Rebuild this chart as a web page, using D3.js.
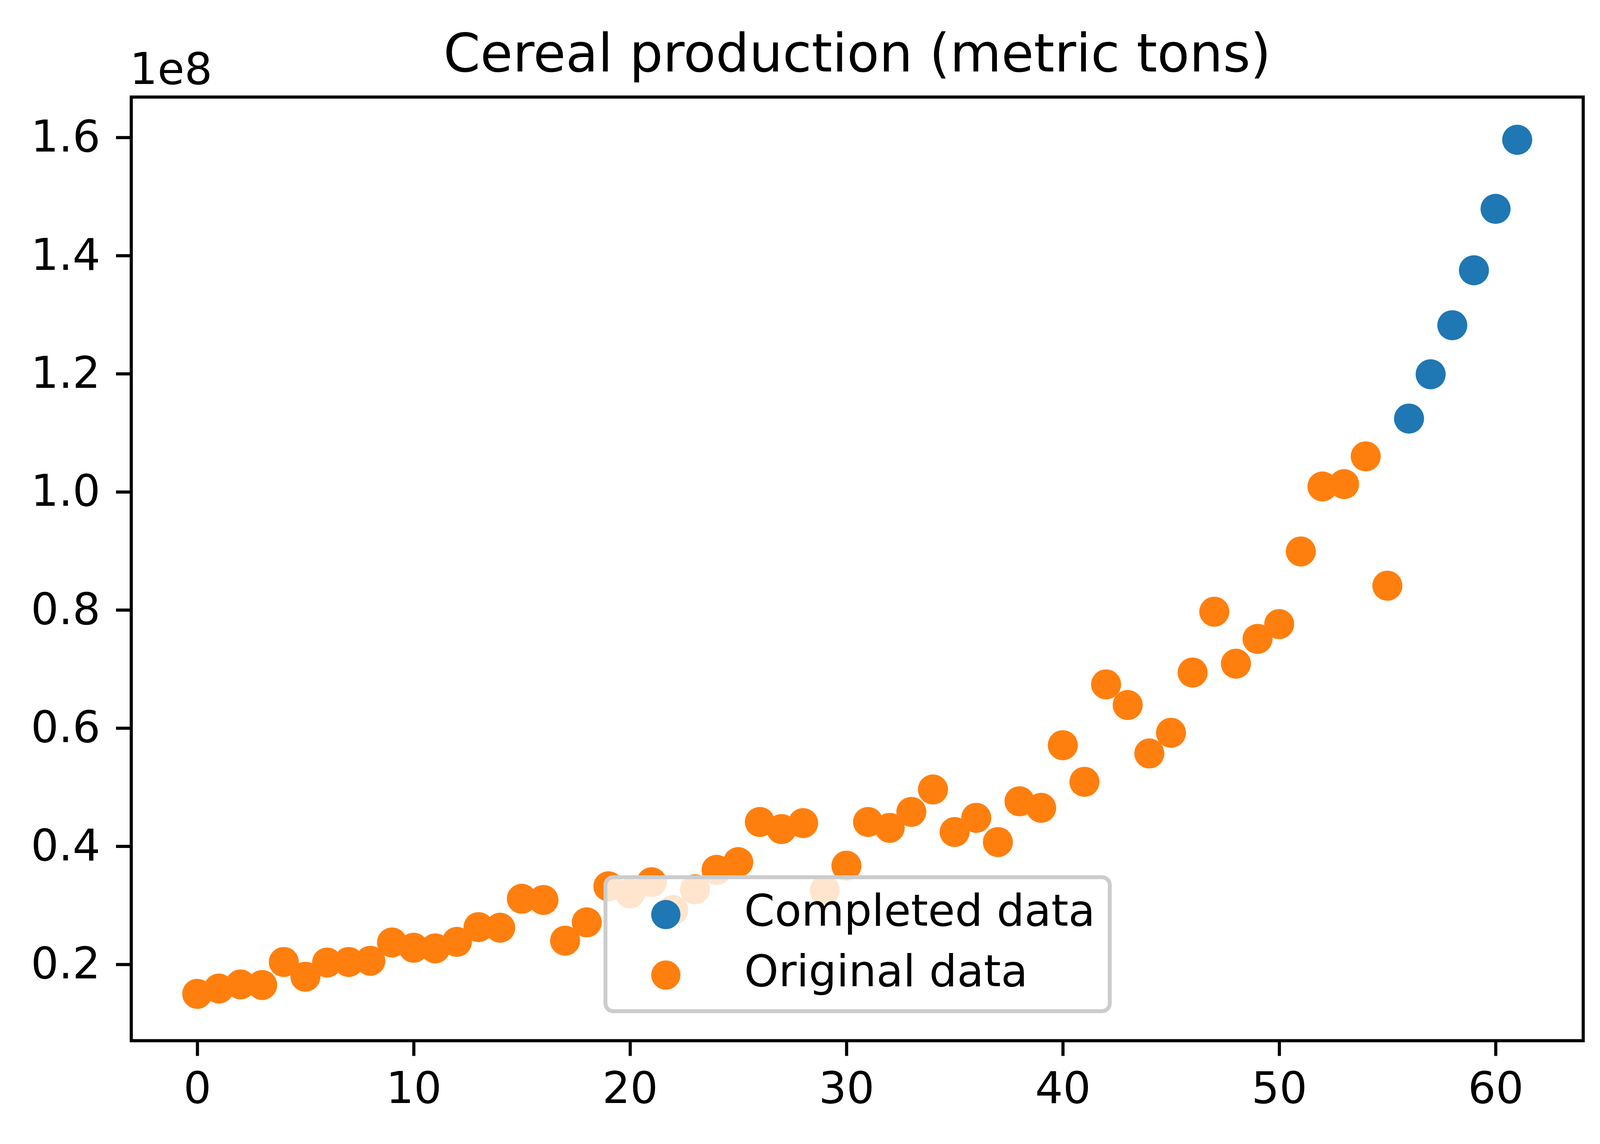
<!DOCTYPE html>
<html>
<head>
<meta charset="utf-8">
<script src="https://cdn.jsdelivr.net/npm/d3@7"></script>
<style>
  body { margin: 0; background: #fff; }
  text { font-family: "DejaVu Sans", sans-serif; }
</style>
</head>
<body>
<div id="chart"></div>
<script>
// values, in units of 1e8 metric tons
var originalIndex = d3.range(0, 56);
var originalValues = [
    0.150, 0.159, 0.166, 0.165, 0.204, 0.179, 0.203, 0.204, 0.206, 0.237,
    0.228, 0.227, 0.238, 0.263, 0.262, 0.311, 0.309, 0.240, 0.271, 0.332,
    0.320, 0.339, 0.292, 0.327, 0.360, 0.373, 0.441, 0.429, 0.439, 0.325,
    0.367, 0.441, 0.431, 0.458, 0.496, 0.424, 0.448, 0.407, 0.476, 0.465,
    0.571, 0.509, 0.674, 0.639, 0.557, 0.592, 0.694, 0.797, 0.709, 0.751,
    0.776, 0.899, 1.009, 1.013, 1.060, 0.841
];
var completedIndex = [56, 57, 58, 59, 60, 61];
var completedValues = [1.124, 1.199, 1.282, 1.375, 1.479, 1.596];

var xTicks = [0, 10, 20, 30, 40, 50, 60];
var yTicks = [0.2, 0.4, 0.6, 0.8, 1.0, 1.2, 1.4, 1.6];
var seriesNames = ["Completed data", "Original data"];
var seriesColors = ["#1f77b4", "#ff7f0e"];

var W = 4138, H = 2929;
var margin = {top: 248.5, right: 4138 - 4053, bottom: 2929 - 2664.5, left: 336};
var width = W - margin.left - margin.right,
    height = H - margin.top - margin.bottom;
var tickFont = 112, titleFont = 135, r = 38.5;

var svg = d3.select("#chart").append("svg")
    .attr("width", W)
    .attr("height", H)
    .style("display", "block");

svg.append("rect").attr("width", W).attr("height", H).attr("fill", "#fff");

var g = svg.append("g")
    .attr("transform", "translate(" + margin.left + "," + margin.top + ")");

// matplotlib style 5% padding on x
var allX = originalIndex.concat(completedIndex);
var xMin = d3.min(allX), xMax = d3.max(allX), xPad = (xMax - xMin) * 0.05;
var x = d3.scaleLinear().domain([xMin - xPad, xMax + xPad]).range([0, width]);
var y = d3.scaleLinear().domain([0.0707, 1.6683]).range([height, 0]);

// points
var completed = completedIndex.map(function(d, i) { return {x: d, y: completedValues[i]}; });
var original = originalIndex.map(function(d, i) { return {x: d, y: originalValues[i]}; });

g.selectAll("circle.completed").data(completed).enter().append("circle")
    .attr("class", "completed")
    .attr("cx", function(d) { return x(d.x); })
    .attr("cy", function(d) { return y(d.y); })
    .attr("r", r)
    .attr("fill", seriesColors[0]);

g.selectAll("circle.original").data(original).enter().append("circle")
    .attr("class", "original")
    .attr("cx", function(d) { return x(d.x); })
    .attr("cy", function(d) { return y(d.y); })
    .attr("r", r)
    .attr("fill", seriesColors[1]);

// axes
var xAxis = g.append("g")
    .attr("transform", "translate(0," + height + ")")
    .call(d3.axisBottom(x).tickValues(xTicks).tickSize(39).tickPadding(41)
        .tickFormat(d3.format("d")));
var yAxis = g.append("g")
    .call(d3.axisLeft(y).tickValues(yTicks).tickSize(39).tickPadding(40)
        .tickFormat(function(d) { return d.toFixed(1); }));

[xAxis, yAxis].forEach(function(a) {
    a.select(".domain").remove();
    a.selectAll(".tick line").attr("stroke", "#000").attr("stroke-width", 8);
    a.selectAll(".tick text").attr("fill", "#000").style("font-size", tickFont + "px")
        .style("font-family", "DejaVu Sans");
});

// frame
g.append("rect")
    .attr("width", width).attr("height", height)
    .attr("fill", "none").attr("stroke", "#000").attr("stroke-width", 8);

// offset text and title
svg.append("text")
    .attr("x", 332).attr("y", 215)
    .style("font-size", tickFont + "px")
    .text("1e8");

svg.append("text")
    .attr("x", margin.left + width / 2).attr("y", 183)
    .attr("text-anchor", "middle")
    .style("font-size", titleFont + "px")
    .text("Cereal production (metric tons)");

// legend
var legend = svg.append("g");
legend.append("rect")
    .attr("x", 1550).attr("y", 2246)
    .attr("width", 2841 - 1550).attr("height", 2589 - 2246)
    .attr("rx", 20).attr("ry", 20)
    .attr("fill", "#fff").attr("fill-opacity", 0.8)
    .attr("stroke", "#cccccc").attr("stroke-width", 10);

var legendRows = [2341.6, 2496.5];
seriesNames.forEach(function(name, i) {
    legend.append("circle")
        .attr("cx", 1704.5).attr("cy", legendRows[i])
        .attr("r", r - 1).attr("fill", seriesColors[i]);
    legend.append("text")
        .attr("x", 1905).attr("y", legendRows[i] + 28)
        .style("font-size", tickFont + "px")
        .text(name);
});
</script>
</body>
</html>
